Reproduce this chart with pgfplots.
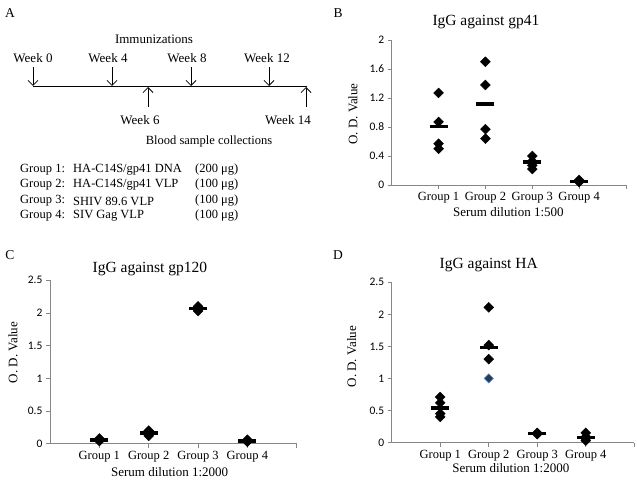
\documentclass[border=0pt]{standalone}
\usepackage{fontspec}
\setmainfont{Liberation Serif}
\newfontfamily\tickfont{Carlito}
\usepackage{pgfplots}
\pgfplotsset{compat=1.18}
\usetikzlibrary{arrows.meta}
\definecolor{axgray}{RGB}{134,134,134}
\definecolor{bluedia}{RGB}{40,60,90}
\definecolor{blueedge}{RGB}{90,140,200}

\pgfplotsset{
  panel/.style={
    scale only axis, anchor=south west,
    xmin=0, xmax=5, ymin=0,
    axis x line*=bottom, axis y line*=left,
    axis line style={draw=axgray, line width=0.8pt, -},
    xtick={1,2,3,4,5}, xticklabels={Group 1,Group 2,Group 3,Group 4,{}},
    tick align=outside, major tick length=4pt,
    tick style={draw=axgray, line width=0.8pt},
    xticklabel style={font=\fontsize{12.5}{14}\selectfont},
    yticklabel style={font=\tickfont\fontsize{11.5}{13}\selectfont},
    /pgf/number format/assume math mode=true,
    title style={font=\fontsize{15.5}{18}\selectfont, anchor=center},
    ylabel style={font=\fontsize{13}{15}\selectfont, anchor=center},
    xlabel style={font=\fontsize{13}{15}\selectfont, anchor=center},
    clip=false,
  },
  dia/.style={only marks, mark=square*, mark size=3.5pt, mark options={rotate=45, fill=black, draw=black}},
  mean/.style={only marks, mark=-, mark size=9pt, mark options={line width=3.5pt, draw=black}},
}

\begin{document}
\begin{tikzpicture}
\path[use as bounding box] (0pt,0pt) rectangle (637pt,-481pt);

% ---------------- Panel A ----------------
\begin{scope}[font=\fontsize{12.5}{14}\selectfont]
\node at (10pt,-13pt) {\fontsize{13.5}{15}\selectfont A};
\node at (154pt,-39pt) {\fontsize{13}{15}\selectfont Immunizations};
\node at (33pt,-58pt) {\fontsize{13}{15}\selectfont Week 0};
\node at (108pt,-58pt) {\fontsize{13}{15}\selectfont Week 4};
\node at (187pt,-58pt) {\fontsize{13}{15}\selectfont Week 8};
\node at (267pt,-58pt) {\fontsize{13}{15}\selectfont Week 12};
\draw[line width=0.9pt] (33pt,-86pt) -- (307pt,-86pt);
\foreach \xx in {33,112,191,269}
  \draw[line width=0.8pt, -{Straight Barb[length=5pt,width=10pt]}] (\xx pt,-67pt) -- (\xx pt,-86pt);
\foreach \xx in {148,306}
  \draw[line width=0.8pt, -{Straight Barb[length=5pt,width=10pt]}] (\xx pt,-107pt) -- (\xx pt,-87pt);
\node at (140pt,-120pt) {\fontsize{13}{15}\selectfont Week 6};
\node at (288pt,-120pt) {\fontsize{13}{15}\selectfont Week 14};
\node at (209pt,-141pt) {Blood sample collections};
\foreach \yy/\g/\v/\d in {170/1/HA-C14S\slash gp41 DNA/200, 185/2/HA-C14S\slash gp41 VLP/100, 201/3/SHIV 89.6 VLP/100, 216/4/SIV Gag VLP/100}{
  \node[anchor=west, inner sep=0pt] at (20pt,-\yy pt) {Group \g:};
  \node[anchor=west, inner sep=0pt] at (73pt,-\yy pt) {\v};
  \node[anchor=west, inner sep=0pt] at (195pt,-\yy pt) {(\d\ μg)};
}
\node at (338pt,-13pt) {\fontsize{13.5}{15}\selectfont B};
\node at (10pt,-255pt) {\fontsize{13.5}{15}\selectfont C};
\node at (338pt,-255pt) {\fontsize{13.5}{15}\selectfont D};
\end{scope}

% ---------------- Panel B ----------------
\begin{axis}[panel, at={(391.7pt,-185pt)}, width=234.3pt, height=145pt,
  ymax=2, ytick={0,0.4,0.8,1.2,1.6,2},
  yticklabel style={/pgf/number format/fixed, /pgf/number format/precision=1},
  title={IgG against gp41}, title style={at={(axis description cs:0.402,1.083)}},
  ylabel={O. D. Value}, ylabel style={at={(axis description cs:-0.165,0.49)}},
  xlabel={Serum dilution 1:500}, xlabel style={at={(axis description cs:0.498,-0.186)}}]
\addplot[dia] coordinates {(1,1.27) (1,0.87) (1,0.57) (1,0.50)
  (2,1.70) (2,1.38) (2,0.77) (2,0.64)
  (3,0.40) (3,0.33) (3,0.27) (3,0.22)
  (4,0.07) (4,0.05) (4,0.05) (4,0.04)};
\addplot[mean] coordinates {(1,0.805) (2,1.12) (3,0.32) (4,0.05)};
\end{axis}

% ---------------- Panel C ----------------
\begin{axis}[panel, at={(50pt,-443.7pt)}, width=246.7pt, height=163.4pt,
  ymax=2.5, ytick={0,0.5,1,1.5,2,2.5},
  title={IgG against gp120}, title style={at={(axis description cs:0.405,1.032)}},
  ylabel={O. D. Value}, ylabel style={at={(axis description cs:-0.150,0.558)}},
  xlabel={Serum dilution 1:2000}, xlabel style={at={(axis description cs:0.485,-0.175)}}]
\addplot[dia] coordinates {(1,0.08) (1,0.06) (1,0.05) (1,0.04)
  (2,0.20) (2,0.17) (2,0.14) (2,0.12)
  (3,2.10) (3,2.08) (3,2.05) (3,2.03)
  (4,0.06) (4,0.05) (4,0.04) (4,0.03)};
\addplot[mean] coordinates {(1,0.06) (2,0.16) (3,2.07) (4,0.045)};
\end{axis}

% ---------------- Panel D ----------------
\begin{axis}[panel, at={(391.7pt,-442.5pt)}, width=242.6pt, height=160.2pt,
  ymax=2.5, ytick={0,0.5,1,1.5,2,2.5},
  title={IgG against HA}, title style={at={(axis description cs:0.40,1.072)}},
  ylabel={O. D. Value}, ylabel style={at={(axis description cs:-0.165,0.536)}},
  xlabel={Serum dilution 1:2000}, xlabel style={at={(axis description cs:0.491,-0.159)}}]
\addplot[dia] coordinates {(1,0.71) (1,0.62) (1,0.45) (1,0.40)
  (2,2.11) (2,1.52) (2,1.30)
  (3,0.15) (3,0.14) (3,0.14) (3,0.13)
  (4,0.15) (4,0.09) (4,0.06) (4,0.03)};
\addplot[only marks, mark=square*, mark size=3.3pt, mark options={rotate=45, fill=bluedia, draw=blueedge, line width=0.5pt}] coordinates {(2,1.00)};
\addplot[mean] coordinates {(1,0.54) (2,1.48) (3,0.14) (4,0.08)};
\end{axis}
\end{tikzpicture}
\end{document}
